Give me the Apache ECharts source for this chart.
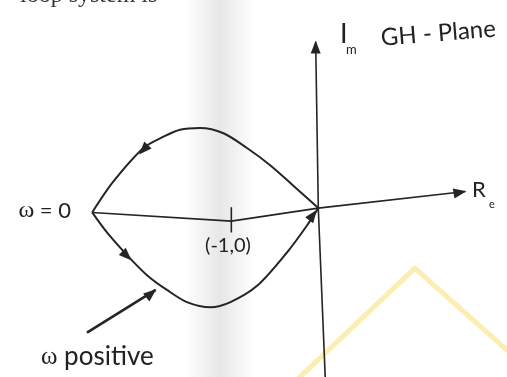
<!DOCTYPE html>
<html>
<head>
<meta charset="utf-8">
<script src="https://cdn.jsdelivr.net/npm/echarts@6/dist/echarts.min.js"></script>
<style>
  html, body { margin: 0; padding: 0; background: #fff; }
  #chart { width: 507px; height: 377px; }
</style>
</head>
<body>
<div id="chart"></div>
<script>
// GH-plane sketch, units: the (-1,0) point sits one unit left of the origin
var upperBranch = [[-2.60, -0.05], [-2.36, 0.30], [-2.01, 0.69], [-1.78, 0.82], [-1.59, 0.90], [-1.36, 0.92],
                   [-1.09, 0.86], [-0.82, 0.69], [-0.55, 0.49], [-0.29, 0.26], [0, 0]];
var lowerBranch = [[-2.60, -0.05], [-2.43, -0.28], [-2.20, -0.54], [-1.97, -0.77], [-1.74, -0.94], [-1.51, -1.08],
                   [-1.24, -1.14], [-1.01, -1.08], [-0.70, -0.89], [-0.36, -0.51], [-0.13, -0.20], [0, 0]];
var realAxis = [[-2.60, -0.05], [-1.00, -0.15], [0, 0], [1.69, 0.19]];
var imagAxis = [[0.08, -1.95], [0, 0], [-0.03, 1.91]];
var minusOneTick = [[-1.00, 0.01], [-1.00, -0.28]];
var pointer = [[-2.66, -1.43], [-1.87, -0.94]];
var watermark = [[-0.37, -2.09], [1.11, -0.69], [2.44, -1.87]];
// arrow heads: [centre, point it aims at]
var arrowMarks = [
  [[-2.01, 0.67], [-2.36, 0.30]],
  [[-2.20, -0.55], [-1.97, -0.77]],
  [[-0.06, -0.08], [0, 0]],
  [[1.63, 0.18], [1.69, 0.19]],
  [[-0.03, 1.85], [-0.03, 1.91]],
  [[-1.92, -0.98], [-1.87, -0.94]]
];

var ink = '#252525';

function pathSeries(data, width, smooth) {
  return {
    type: 'line',
    data: data,
    showSymbol: false,
    smooth: smooth || false,
    silent: true,
    lineStyle: { color: ink, width: width },
    z: 3
  };
}

var chart = echarts.init(document.getElementById('chart'));
var option = {
  animation: false,
  backgroundColor: '#fff',
  grid: { left: 0, right: 0, top: 0, bottom: 0 },
  xAxis: { type: 'value', min: -3.66, max: 2.17, show: false },
  yAxis: { type: 'value', min: -1.94, max: 2.39, show: false },
  graphic: [
    {
      type: 'rect', z: -10, silent: true,
      shape: { x: 185, y: 0, width: 70, height: 377 },
      style: {
        fill: new echarts.graphic.LinearGradient(0, 0, 1, 0, [
          { offset: 0, color: 'rgba(225,225,225,0)' },
          { offset: 0.5, color: 'rgba(225,225,225,0.8)' },
          { offset: 1, color: 'rgba(225,225,225,0)' }
        ])
      }
    },
    { type: 'text', left: 20, top: -16, style: { text: 'loop system is =', fontSize: 24, fontFamily: 'Liberation Serif', fill: '#333' } },
    {
      type: 'text', x: 71, y: 211,
      style: {
        text: '{w|ω} = 0', align: 'right', verticalAlign: 'middle',
        fontSize: 22, fontFamily: 'Lato', fill: '#222',
        rich: { w: { fontSize: 24, fontFamily: 'Liberation Serif', fill: '#222' } }
      }
    },
    { type: 'text', x: 228, y: 246, style: { text: '(-1,0)', align: 'center', verticalAlign: 'middle', fontSize: 20, fontFamily: 'Lato', fill: '#222' } },
    { type: 'text', x: 472, y: 190, style: { text: 'R', verticalAlign: 'middle', fontSize: 22, fontFamily: 'Lato', fill: '#222' } },
    { type: 'text', x: 489, y: 204, style: { text: 'e', verticalAlign: 'middle', fontSize: 11, fontFamily: 'Lato', fill: '#222' } },
    { type: 'text', x: 340, y: 34, style: { text: 'I', verticalAlign: 'middle', fontSize: 27, fontFamily: 'Lato', fill: '#222' } },
    { type: 'text', x: 346, y: 50, style: { text: 'm', verticalAlign: 'middle', fontSize: 13, fontFamily: 'Lato', fill: '#222' } },
    { type: 'text', x: 381, y: 38, rotation: 0.08, style: { text: 'GH - Plane', verticalAlign: 'middle', fontSize: 24, fontFamily: 'Lato', fill: '#222' } },
    {
      type: 'text', x: 41, y: 357,
      style: {
        text: '{w|ω} positive', verticalAlign: 'middle',
        fontSize: 26, fontFamily: 'Lato', fill: '#222',
        rich: { w: { fontSize: 25, fontFamily: 'Liberation Serif', fill: '#222' } }
      }
    }
  ],
  series: [
    {
      type: 'line',
      data: watermark,
      showSymbol: false,
      silent: true,
      z: 1,
      lineStyle: { color: '#fbeeb0', width: 5, join: 'round', cap: 'round' }
    },
    pathSeries(realAxis, 1.6),
    pathSeries(imagAxis, 1.6),
    pathSeries(minusOneTick, 1.6),
    pathSeries(upperBranch, 2, 0.3),
    pathSeries(lowerBranch, 2, 0.3),
    pathSeries(pointer, 2.6),
    {
      type: 'scatter',
      data: arrowMarks.map(function (a) { return a[0]; }),
      symbol: 'triangle',
      symbolSize: [10, 13],
      silent: true,
      itemStyle: { color: ink, opacity: 1 },
      z: 4
    }
  ]
};
chart.setOption(option);

// rotate each head along its segment, measured in screen space
var heads = arrowMarks.map(function (a) {
  var p = chart.convertToPixel({ gridIndex: 0 }, a[0]);
  var q = chart.convertToPixel({ gridIndex: 0 }, a[1]);
  var ang = Math.atan2(-(q[0] - p[0]), -(q[1] - p[1])) * 180 / Math.PI;
  return { value: a[0], symbolRotate: ang };
});
chart.setOption({ series: [{}, {}, {}, {}, {}, {}, {}, { data: heads }] });
</script>
</body>
</html>
